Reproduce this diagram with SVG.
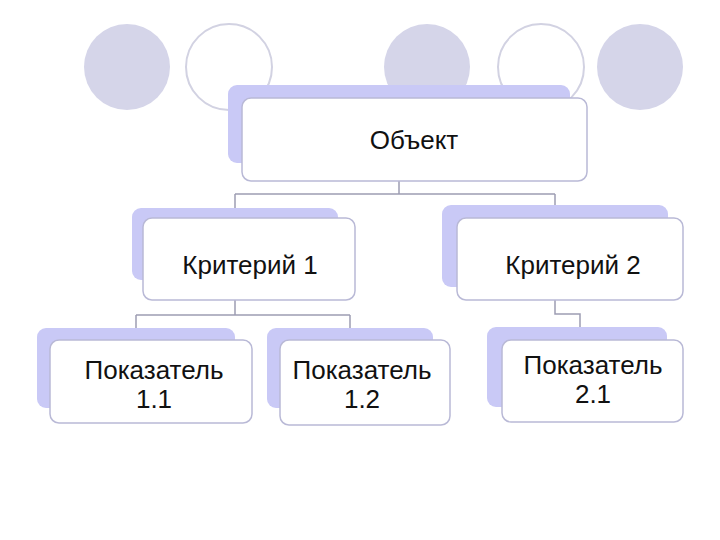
<svg xmlns="http://www.w3.org/2000/svg" width="720" height="540" viewBox="0 0 720 540">
<style>
.dot{fill:#d5d5e9}
.ring{fill:#ffffff;stroke:#d2d2e2;stroke-width:2}
.back{fill:#c9c9f6}
.front{fill:#ffffff;stroke:#b9b9d6;stroke-width:1.5}
.lbl{font-family:"Liberation Sans",Arial,sans-serif;font-size:26px;fill:#111;text-anchor:middle}
.conn{fill:none;stroke:#9d9db3;stroke-width:1.5}
</style>
<rect width="720" height="540" fill="#ffffff"/>
<g id="decor">
<circle class="dot" cx="127" cy="67" r="43"/>
<circle class="ring" cx="229" cy="67" r="43"/>
<circle class="dot" cx="427" cy="67" r="43"/>
<circle class="ring" cx="541" cy="67" r="43"/>
<circle class="dot" cx="640" cy="67" r="43"/>
</g>
<g id="connectors">
<path class="conn" d="M399,181 V194 M235,194 H555 M235,194 V208 M555,194 V205"/>
<path class="conn" d="M235,300 V315 M136,315 H350 M136,315 V328 M350,315 V328"/>
<path class="conn" d="M555,300 V314 H580 V327"/>
</g>
<g id="obj">
<rect class="back" x="228" y="85" width="342" height="78" rx="9"/>
<rect class="front" x="242" y="98" width="345" height="83" rx="9"/>
<text class="lbl" x="414" y="149">Объект</text>
</g>
<g id="crit1">
<rect class="back" x="132" y="208" width="206" height="72" rx="9"/>
<rect class="front" x="143" y="218" width="212" height="82" rx="9"/>
<text class="lbl" x="250" y="274">Критерий 1</text>
</g>
<g id="crit2">
<rect class="back" x="442" y="205" width="226" height="82" rx="9"/>
<rect class="front" x="457" y="218" width="226" height="82" rx="9"/>
<text class="lbl" x="573" y="274">Критерий 2</text>
</g>
<g id="ind11">
<rect class="back" x="37" y="328" width="198" height="80" rx="9"/>
<rect class="front" x="50" y="340" width="202" height="83" rx="9"/>
<text class="lbl" x="154" y="379">Показатель</text>
<text class="lbl" x="154" y="408">1.1</text>
</g>
<g id="ind12">
<rect class="back" x="267" y="328" width="166" height="80" rx="9"/>
<rect class="front" x="280" y="340" width="170" height="85" rx="9"/>
<text class="lbl" x="362" y="379">Показатель</text>
<text class="lbl" x="362" y="408">1.2</text>
</g>
<g id="ind21">
<rect class="back" x="487" y="327" width="180" height="80" rx="9"/>
<rect class="front" x="502" y="340" width="181" height="82" rx="9"/>
<text class="lbl" x="593" y="374">Показатель</text>
<text class="lbl" x="593" y="403">2.1</text>
</g>
</svg>
